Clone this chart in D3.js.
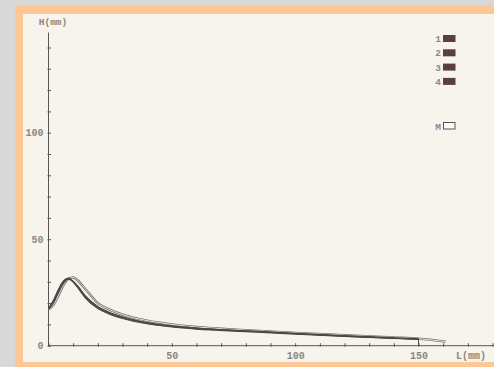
<!DOCTYPE html>
<html>
<head>
<meta charset="utf-8">
<script src="https://cdn.jsdelivr.net/npm/d3@7"></script>
<style>
  html, body { margin: 0; padding: 0; background: #d8d8d8; }
  svg { display: block; }
  text { font-family: "Liberation Mono", "DejaVu Sans Mono", monospace; }
</style>
</head>
<body>
<script>
const width = 494;
const height = 367;

// lengths along the profile (mm)
const lengths = [0, 2, 4, 6, 8, 10, 12, 15, 20, 25, 30, 40, 50, 60, 80, 100, 120, 140, 150];
const lengthsM = [0, 2, 4, 6, 8, 10, 12, 15, 20, 25, 30, 40, 50, 60, 80, 100, 120, 140, 150, 161];

// heights (mm)
const series1 = [17.4, 21.0, 26.0, 30.0, 31.6, 30.0, 27.2, 22.6, 17.7, 15.0, 13.1, 10.5, 9.0, 8.0, 6.8, 5.6, 4.5, 3.5, 3.1];
const series2 = [17.3, 20.7, 25.6, 29.7, 31.4, 29.9, 27.0, 22.3, 17.4, 14.7, 12.8, 10.3, 8.8, 7.8, 6.6, 5.4, 4.3, 3.4, 3.0];
const series3 = [17.5, 21.3, 26.4, 30.3, 31.8, 30.3, 27.6, 23.0, 18.1, 15.3, 13.4, 10.8, 9.2, 8.2, 7.0, 5.8, 4.7, 3.7, 3.2];
const series4 = [17.2, 20.2, 25.0, 29.2, 31.2, 30.2, 27.8, 23.4, 18.4, 15.5, 13.6, 10.9, 9.3, 8.3, 7.0, 5.7, 4.6, 3.6, 3.1];
const seriesM = [17.1, 19.2, 23.5, 28.3, 31.3, 32.0, 30.5, 26.5, 20.0, 16.8, 14.6, 11.8, 10.0, 8.8, 7.3, 6.0, 4.9, 3.9, 3.3, 1.9];
// curve 1 ends with a drop to the axis
const dropL = [150, 150];
const dropH = [3.1, 0];

const legendLabels = ["1", "2", "3", "4"];
const xTicks = d3.range(0, 190, 10);
const xLabels = [50, 100, 150];
const yTicks = d3.range(0, 150, 10);
const yLabels = [0, 50, 100];

const svg = d3.select("body").append("svg")
  .attr("width", width)
  .attr("height", height);

// frame
svg.append("rect").attr("width", width).attr("height", height).attr("fill", "#d8d8d8");
svg.append("rect").attr("x", 15).attr("y", 5).attr("width", width - 15).attr("height", height - 5).attr("fill", "#fec896");
svg.append("rect").attr("x", 23).attr("y", 14).attr("width", width - 23).attr("height", 348).attr("fill", "#f7f4ee");

const x = d3.scaleLinear().domain([0, 150]).range([48.5, 418.5]);
const y = d3.scaleLinear().domain([0, 100]).range([345.7, 132.7]);

const textColor = "#8a8782";
const axisColor = "#555";

// x axis
const xAxis = svg.append("g").attr("transform", `translate(0,${y(0)})`)
  .call(d3.axisBottom(x).tickValues(xTicks).tickSize(0).tickPadding(6)
    .tickFormat(d => xLabels.includes(d) ? d : ""));
xAxis.select(".domain").attr("d", `M${x(0)},0H${width}`).attr("stroke", axisColor);
xAxis.selectAll(".tick").append("line").attr("y1", -2.5).attr("y2", 1).attr("stroke", axisColor);
xAxis.selectAll("text").attr("fill", textColor).attr("font-size", 10).attr("font-weight", "bold")
  .attr("font-family", "Liberation Mono, monospace");

// y axis
const yAxis = svg.append("g").attr("transform", `translate(${x(0)},0)`)
  .call(d3.axisLeft(y).tickValues(yTicks).tickSize(0).tickPadding(5)
    .tickFormat(d => yLabels.includes(d) ? d : ""));
yAxis.select(".domain").attr("d", `M0,${y(0)}V${y(147)}`).attr("stroke", axisColor);
yAxis.selectAll(".tick").append("line").attr("x1", -1).attr("x2", 2.5).attr("stroke", axisColor);
yAxis.selectAll("text").attr("fill", textColor).attr("font-size", 10).attr("font-weight", "bold")
  .attr("font-family", "Liberation Mono, monospace");

// axis titles
svg.append("text").attr("x", 53).attr("y", 25).attr("text-anchor", "middle")
  .attr("fill", textColor).attr("font-size", 9.5).attr("font-weight", "bold").text("H(mm)");
svg.append("text").attr("x", 471).attr("y", 359).attr("text-anchor", "middle")
  .attr("fill", textColor).attr("font-size", 10).attr("font-weight", "bold").text("L(mm)");

// curves
const line = d3.line()
  .x(d => x(d[0]))
  .y(d => y(d[1]))
  .curve(d3.curveMonotoneX);

function pairs(ls, hs) { return ls.map((l, i) => [l, hs[i]]); }

// M drawn as outlined line
svg.append("path").datum(pairs(lengthsM, seriesM))
  .attr("d", line).attr("fill", "none").attr("stroke", "#6e6c68").attr("stroke-width", 2.4);
svg.append("path").datum(pairs(lengthsM, seriesM))
  .attr("d", line).attr("fill", "none").attr("stroke", "#f3f1ec").attr("stroke-width", 0.9);

[series1, series2, series3, series4].forEach(s => {
  svg.append("path").datum(pairs(lengths, s))
    .attr("d", line).attr("fill", "none").attr("stroke", "#4a4846").attr("stroke-width", 1.1);
});
svg.append("path").datum(pairs(dropL, dropH))
  .attr("d", d3.line().x(d => x(d[0])).y(d => y(d[1])))
  .attr("fill", "none").attr("stroke", "#4a4846").attr("stroke-width", 1);

// legend
const legend = svg.append("g");
legendLabels.forEach((lab, i) => {
  const yy = 35 + i * 14.3;
  legend.append("rect").attr("x", 443).attr("y", yy).attr("width", 12.5).attr("height", 7)
    .attr("fill", "#5b3f3b");
  legend.append("text").attr("x", 441).attr("y", yy + 7).attr("text-anchor", "end")
    .attr("fill", textColor).attr("font-size", 9.5).attr("font-weight", "bold").text(lab);
});
legend.append("rect").attr("x", 443.5).attr("y", 122.5).attr("width", 11.5).attr("height", 6.5)
  .attr("fill", "#fbfaf7").attr("stroke", "#555").attr("stroke-width", 1);
legend.append("text").attr("x", 441).attr("y", 129.5).attr("text-anchor", "end")
  .attr("fill", textColor).attr("font-size", 9.5).attr("font-weight", "bold").text("M");
</script>
</body>
</html>
